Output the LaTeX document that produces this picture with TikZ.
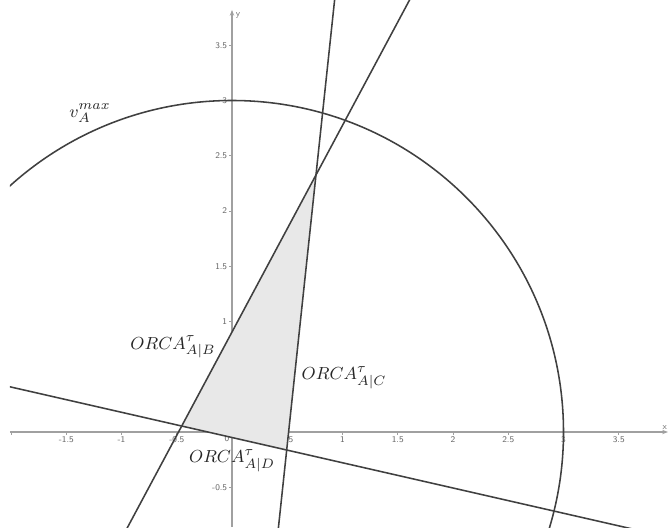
\documentclass[tikz,border=0pt]{standalone}
\usetikzlibrary{calc,arrows.meta}
\definecolor{linegray}{HTML}{404040}
\definecolor{axisgray}{HTML}{A0A0A0}
\definecolor{fillgray}{HTML}{E8E8E8}
\begin{document}
\begin{tikzpicture}[x=2cm,y=2cm,
  orcaline/.style={draw=linegray,line width=0.8pt},
  axisline/.style={draw=axisgray,line width=0.6pt},
  ticklbl/.style={font=\fontsize{4.5}{5}\selectfont\sffamily,text=black!60,inner sep=0.6pt},
  mathlbl/.style={font=\fontsize{9.4}{11}\selectfont,inner sep=0pt,text=black!85}]
\useasboundingbox (-2.0995,-0.8597) rectangle (3.9457,3.9095);
\clip (-2.01,-0.8597) rectangle (3.9457,3.9095);
% axes
\coordinate (o) at (0,0);
\coordinate (xl) at (-2.01,0);
\coordinate (xr) at (3.9457,0);
\coordinate (yb) at (0,-0.8597);
\coordinate (yt) at (0,3.82);
\draw[axisline,-{Stealth[length=3pt]}] (xl) -- (xr);
\draw[axisline,-{Stealth[length=3pt]}] (yb) -- (yt);
\node[ticklbl,anchor=south east] (xlab) at (3.95,0.01) {x};
\node[ticklbl,anchor=west] (ylab) at (0.02,3.77) {y};
\foreach \x in {-2,-1.5,...,3.6} \draw[axisline,line width=0.4pt] (\x,0) -- (\x,-0.025);
\foreach \y in {-0.5,0.5,1,1.5,2,2.5,3,3.5} \draw[axisline,line width=0.4pt] (0,\y) -- (-0.025,\y);
\foreach \x/\l in {-1.5/-1.5,-1/-1,-0.5/-0.5,0.5/0.5,1/1,1.5/1.5,2/2,2.5/2.5,3/3,3.5/3.5}
  \node[ticklbl,anchor=north] at (\x,-0.03) {\l};
\node[ticklbl,anchor=north east] (zero) at (-0.01,-0.02) {0};
\foreach \y/\l in {-0.5/-0.5,1/1,1.5/1.5,2/2,2.5/2.5,3/3,3.5/3.5}
  \node[ticklbl,anchor=east] at (-0.03,\y) {\l};
% vertices of the feasible region
\coordinate (bc) at (0.760,2.326);
\coordinate (bd) at (-0.455,0.054);
\coordinate (cd) at (0.495,-0.163);
\fill[fillgray] (bc) -- (bd) -- (cd) -- cycle;
% circle v_A^max
\draw[orcaline] (o) circle (3);
% ORCA half-plane boundaries
\draw[orcaline] ($(bd)!-0.6!(bc)$) -- ($(bd)!2.2!(bc)$);
\draw[orcaline] ($(cd)!-0.5!(bc)$) -- ($(cd)!2.2!(bc)$);
\draw[orcaline] ($(bd)!-2!(cd)$) -- ($(bd)!5!(cd)$);
% labels
\node[mathlbl] (vmax) at (-1.285,2.887) {$v_A^{max}$};
\node[mathlbl] (lb) at (-0.534,0.769) {$ORCA^{\tau}_{A|B}$};
\node[mathlbl] (lc) at (1.014,0.489) {$ORCA^{\tau}_{A|C}$};
\node[mathlbl] (ld) at (0.0,-0.262) {$ORCA^{\tau}_{A|D}$};
\end{tikzpicture}
\end{document}
